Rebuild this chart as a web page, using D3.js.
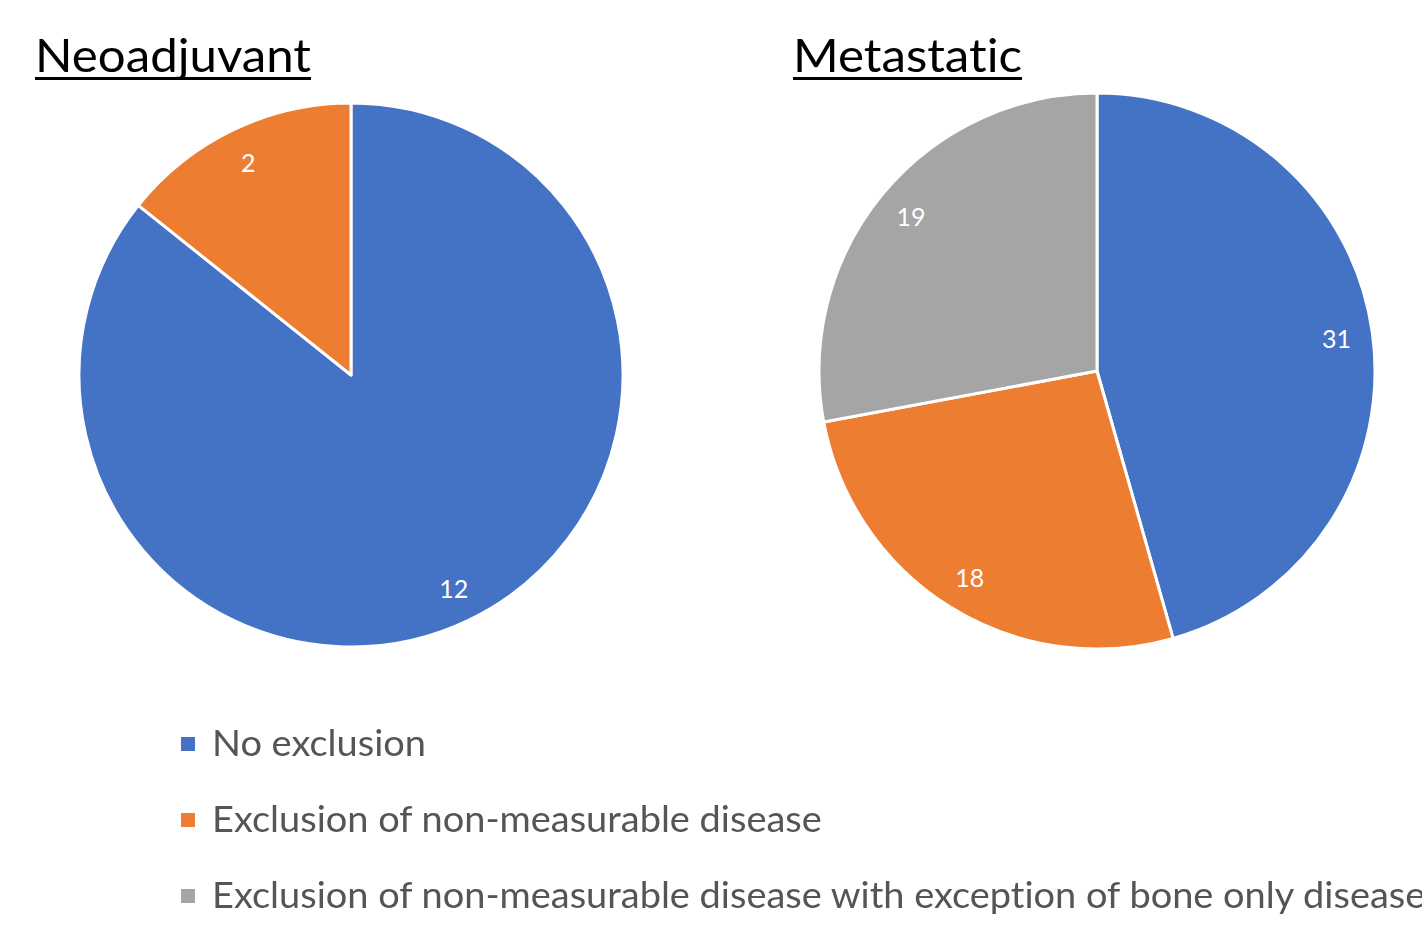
<!DOCTYPE html>
<html>
<head>
<meta charset="utf-8">
<script src="https://cdn.jsdelivr.net/npm/d3@7"></script>
<style>
  html, body { margin: 0; padding: 0; background: #fff; }
  svg { display: block; }
  text { font-variant-ligatures: none; font-feature-settings: "liga" 0, "clig" 0; }
</style>
</head>
<body>
<svg id="chart" width="1422" height="925"></svg>
<script>
// Categories shared by both pies
const categories = [
  "No exclusion",
  "Exclusion of non-measurable disease",
  "Exclusion of non-measurable disease with exception of bone only disease"
];
const colors = ["#4472C4", "#ED7D31", "#A5A5A5"];

// Counts per setting
const neoadjuvantValues = [12, 2, 0];
const metastaticValues = [31, 18, 19];

const pieTitles = ["Neoadjuvant", "Metastatic"];

const svg = d3.select("#chart");
const FONT = "Lato, 'Open Sans', sans-serif";

const defs = svg.append("defs");
defs.append("filter").attr("id", "soft")
  .append("feGaussianBlur").attr("stdDeviation", 0.6);

const pies = [
  { title: pieTitles[0], values: neoadjuvantValues, cx: 351, cy: 375, r: 272, tx: 35, tw: 276 },
  { title: pieTitles[1], values: metastaticValues, cx: 1097, cy: 371, r: 278, tx: 793, tw: 229 }
];

const pieGen = d3.pie().sort(null).value(d => d.value);

pies.forEach(p => {
  const data = categories.map((c, i) => ({ cat: c, value: p.values[i], color: colors[i] }));
  const arcs = pieGen(data).filter(a => a.data.value > 0);
  const arc = d3.arc().innerRadius(0).outerRadius(p.r);
  const labelArc = d3.arc().innerRadius(p.r * 0.87).outerRadius(p.r * 0.87);

  const g = svg.append("g").attr("transform", `translate(${p.cx},${p.cy})`);
  g.selectAll("path.slice").data(arcs).join("path")
    .attr("class", "slice")
    .attr("d", arc)
    .attr("fill", d => d.data.color)
    .attr("stroke", "#fff")
    .attr("stroke-width", 3)
    .attr("stroke-linejoin", "round");

  g.selectAll("text.val").data(arcs).join("text")
    .attr("class", "val")
    .attr("transform", d => `translate(${labelArc.centroid(d)})`)
    .attr("text-anchor", "middle")
    .attr("dominant-baseline", "central")
    .attr("font-family", FONT)
    .attr("font-size", 25)
    .attr("fill", "#fff")
    .text(d => d.data.value);

  // Underlined title
  svg.append("text")
    .attr("x", p.tx).attr("y", 72)
    .attr("font-family", FONT)
    .attr("font-size", 47)
    .attr("fill", "#000")
    .attr("textLength", p.tw)
    .attr("lengthAdjust", "spacingAndGlyphs")
    .text(p.title);
  svg.append("rect")
    .attr("x", p.tx).attr("y", 77)
    .attr("width", p.tw).attr("height", 3)
    .attr("fill", "#000");
});

// Legend
const legend = svg.append("g").attr("filter", "url(#soft)");
const rowY = [744, 820, 896];
const items = legend.selectAll("g.item").data(categories).join("g")
  .attr("class", "item")
  .attr("transform", (d, i) => `translate(0,${rowY[i]})`);
items.append("rect")
  .attr("x", 181).attr("y", -7)
  .attr("width", 14).attr("height", 14)
  .attr("fill", (d, i) => colors[i]);
const texts = items.append("text")
  .attr("x", 212).attr("y", 12)
  .attr("font-family", FONT)
  .attr("font-size", 36)
  .attr("fill", "#555")
  .text(d => d);

// Condense the legend glyphs to the narrow face width
const natural = texts.nodes()[1].getComputedTextLength();
const k = 610 / natural;
texts.attr("transform", `translate(${212 * (1 - k)},0) scale(${k},1)`);
</script>
</body>
</html>
